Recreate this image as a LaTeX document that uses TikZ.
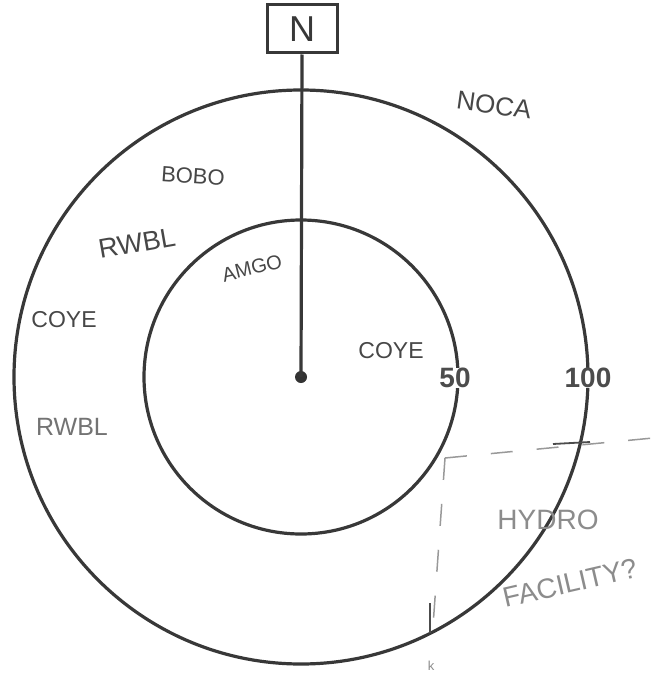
\documentclass[tikz,border=0pt]{standalone}
\usepackage{fontspec}
\setmainfont{Liberation Sans}
\begin{document}
\begin{tikzpicture}[x=1pt,y=-1pt,
  ink/.style={draw=black!78, line width=3.2pt},
  hand/.style={text=black!72, inner sep=0pt},
  pale/.style={text=black!45, inner sep=0pt},
  dist/.style={text=black!70, fill=white, inner sep=0.5pt, font=\bfseries\fontsize{28}{28}\selectfont},
  dsh/.style={draw=black!40, line width=1.5pt, dash pattern=on 22pt off 24pt}]
\useasboundingbox (0,0) rectangle (653,677);
\fill[white] (0,0) rectangle (653,677);
% rings
\draw[ink] (301,377) circle[radius=287pt];
\draw[ink] (301,377) circle[radius=157pt];
% center
\node[fill=black!80, circle, minimum size=12pt, inner sep=0pt] (c) at (301,377) {};
% north box
\node[draw=black!78, line width=3pt, fill=white, minimum width=70pt, minimum height=48pt, inner sep=0pt, font=\fontsize{36}{36}\selectfont, text=black!78] (N) at (302,29) {N};
\draw[ink] (N.south) -- (c.center);
% dashed boundary
\coordinate (dc) at (445,458);
\coordinate (de) at (653,438);
\coordinate (db) at (432,640);
\draw[dsh] (dc) -- (de);
\draw[dsh] (dc) -- (db);
\draw[draw=black!70, line width=1.8pt] (553,444) -- (590,442);
\draw[draw=black!70, line width=1.8pt] (430,603) -- (430,633);
\node[text=black!45, font=\fontsize{13}{13}\selectfont] (kk) at (431,666) {k};
% labels
\node[hand, font=\fontsize{26}{26}\selectfont, rotate=-8] (noca) at (494,105) {NOCA};
\node[hand, font=\fontsize{22}{22}\selectfont, rotate=-4] (bobo) at (193,176) {BOBO};
\node[hand, font=\fontsize{27}{27}\selectfont, rotate=10] (rwbl1) at (137,243) {RWBL};
\node[hand, font=\fontsize{20}{20}\selectfont, rotate=14] (amgo) at (252,268) {AMGO};
\node[hand, font=\fontsize{23}{23}\selectfont] (coye1) at (64,320) {COYE};
\node[hand, font=\fontsize{23}{23}\selectfont] (coye2) at (391,351) {COYE};
\node[hand, text=black!55, font=\fontsize{25}{25}\selectfont] (rwbl2) at (72,427) {RWBL};
\node[dist] (d50) at (455,378) {50};
\node[dist] (d100) at (588,378) {100};
\node[pale, font=\fontsize{28}{28}\selectfont] (hydro) at (548,520) {HYDRO};
\node[pale, font=\fontsize{28}{28}\selectfont, rotate=13] (fac) at (570,583) {FACILITY?};
\end{tikzpicture}
\end{document}
